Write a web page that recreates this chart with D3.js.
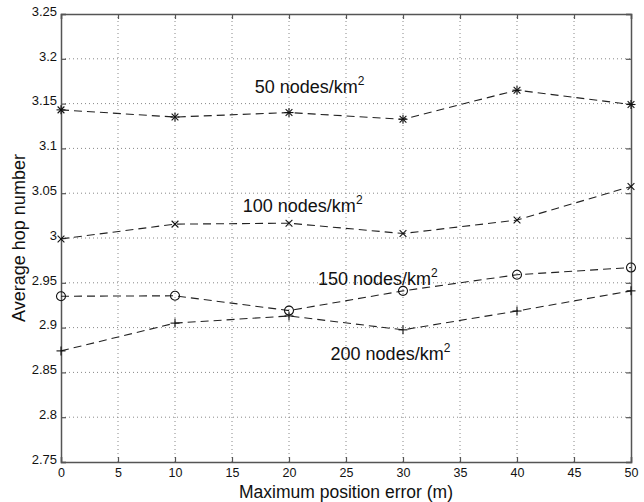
<!DOCTYPE html>
<html><head><meta charset="utf-8">
<script src="https://cdn.jsdelivr.net/npm/d3@7"></script>
<style>body{margin:0;background:#fff}svg{display:block}text{font-family:"Liberation Sans",Arial,Helvetica,sans-serif;fill:#111}</style>
</head><body><svg id="c" width="644" height="502"></svg>
<script>
const xValues = [0, 10, 20, 30, 40, 50];
const series50 = [3.143, 3.135, 3.140, 3.1325, 3.165, 3.149];
const series100 = [2.999, 3.0155, 3.0165, 3.005, 3.020, 3.0575];
const series150 = [2.935, 2.9355, 2.919, 2.941, 2.959, 2.967];
const series200 = [2.874, 2.905, 2.913, 2.8975, 2.9185, 2.941];
const xTicks = [0, 5, 10, 15, 20, 25, 30, 35, 40, 45, 50];
const yTicks = [2.75, 2.8, 2.85, 2.9, 2.95, 3, 3.05, 3.1, 3.15, 3.2, 3.25];
const labels = ["50 nodes/km", "100 nodes/km", "150 nodes/km", "200 nodes/km"];
const markers = ["star", "x", "o", "plus"];
const labelPos = [[21.8, 3.1618], [21.2, 3.0285], [27.8, 2.9475], [28.9, 2.8636]]; // data coords: label center / baseline

const svg = d3.select("#c");
const m = {l: 61, r: 13, t: 14, b: 40};
const W = 644, H = 502;
const x = d3.scaleLinear().domain([0, 50]).range([m.l, W - m.r]);
const y = d3.scaleLinear().domain([2.75, 3.25]).range([H - m.b, m.t]);
const axisCol = "#555";

// grid
const g = svg.append("g");
g.selectAll(".gx").data(xTicks.slice(1, -1)).enter().append("line")
  .attr("x1", d => x(d)).attr("x2", d => x(d)).attr("y1", y(2.75)).attr("y2", y(3.25))
  .attr("stroke", "#888").attr("stroke-width", 1).attr("stroke-dasharray", "1,3");
g.selectAll(".gy").data(yTicks.slice(1, -1)).enter().append("line")
  .attr("y1", d => y(d)).attr("y2", d => y(d)).attr("x1", x(0)).attr("x2", x(50))
  .attr("stroke", "#888").attr("stroke-width", 1).attr("stroke-dasharray", "1,3");

// axes
const ax = svg.append("g").attr("transform", `translate(0,${y(2.75)})`)
  .call(d3.axisBottom(x).tickValues(xTicks).tickSize(-5).tickPadding(6).tickFormat(d3.format("d")));
const axT = svg.append("g").attr("transform", `translate(0,${y(3.25)})`)
  .call(d3.axisTop(x).tickValues(xTicks).tickSize(-5).tickFormat(""));
const ay = svg.append("g").attr("transform", `translate(${x(0)},0)`)
  .call(d3.axisLeft(y).tickValues(yTicks).tickSize(-5).tickPadding(4).tickFormat(d => d3.format("")(+d.toFixed(2))));
const ayR = svg.append("g").attr("transform", `translate(${x(50)},0)`)
  .call(d3.axisRight(y).tickValues(yTicks).tickSize(-5).tickFormat(""));
[ax, axT, ay, ayR].forEach(a => {
  a.select(".domain").attr("stroke", axisCol).attr("stroke-width", 1.5);
  a.selectAll(".tick line").attr("stroke", axisCol).attr("stroke-width", 1.2);
  a.selectAll("text").attr("font-size", 13).attr("fill", "#111")
    .style("font-family", '"Liberation Sans",Arial,sans-serif');
});
ax.selectAll(".tick text").attr("font-size", 12.5);
ay.selectAll(".tick text").attr("dy", "0.1em");

// series
const allSeries = [series50, series100, series150, series200];
const line = d3.line().x((d, i) => x(xValues[i])).y(d => y(d));
allSeries.forEach((s, k) => {
  svg.append("path").datum(s).attr("d", line).attr("fill", "none")
    .attr("stroke", "#222").attr("stroke-width", 1.1).attr("stroke-dasharray", "8,5");
  const mg = svg.append("g");
  s.forEach((v, i) => {
    const cx = x(xValues[i]), cy = y(v), r = 4.5;
    const t = markers[k];
    const p = mg.append("g").attr("transform", `translate(${cx},${cy})`)
      .attr("stroke", "#111").attr("stroke-width", 1.1).attr("fill", "none");
    if (t === "o") p.append("circle").attr("r", r);
    if (t === "plus" || t === "star") {
      p.append("line").attr("x1", -r).attr("x2", r);
      p.append("line").attr("y1", -r).attr("y2", r);
    }
    if (t === "x" || t === "star") {
      const q = r * 0.75;
      p.append("line").attr("x1", -q).attr("y1", -q).attr("x2", q).attr("y2", q);
      p.append("line").attr("x1", -q).attr("y1", q).attr("x2", q).attr("y2", -q);
    }
  });
});

// labels
labels.forEach((t, k) => {
  const tx = svg.append("text").attr("x", x(labelPos[k][0])).attr("y", y(labelPos[k][1]))
    .attr("text-anchor", "middle").attr("font-size", 18);
  tx.append("tspan").text(t);
  tx.append("tspan").attr("font-size", 12).attr("dy", -8).text("2");
});

// axis titles
svg.append("text").attr("x", (x(0) + x(50)) / 2).attr("y", 497.5).attr("text-anchor", "middle")
  .attr("font-size", 17.5).text("Maximum position error (m)");
svg.append("text").attr("transform", `translate(25,${(y(2.75) + y(3.25)) / 2}) rotate(-90)`)
  .attr("text-anchor", "middle").attr("font-size", 18).text("Average hop number");
</script></body></html>
